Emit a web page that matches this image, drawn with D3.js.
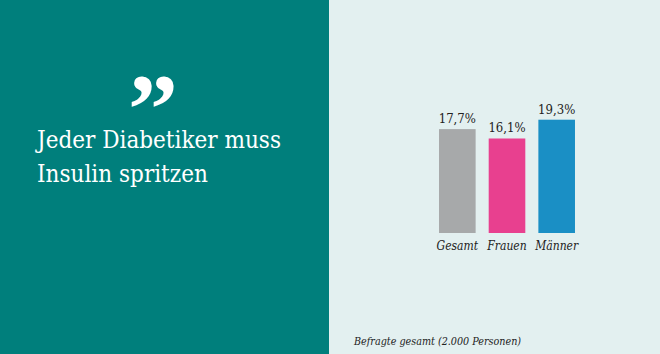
<!DOCTYPE html>
<html><head><meta charset="utf-8">
<script src="https://cdn.jsdelivr.net/npm/d3@7"></script>
<style>html,body{margin:0;padding:0;}svg{display:block;}</style>
</head><body>
<svg id="c" width="660" height="354"></svg>
<script>
const categories = ["Gesamt", "Frauen", "Männer"];
const values = [17.7, 16.1, 19.3];
const valueLabels = ["17,7%", "16,1%", "19,3%"];
const colors = ["#a7a9aa", "#e8408f", "#1a8fc5"];
const quoteLines = ["Jeder Diabetiker muss", "Insulin spritzen"];
const footnote = "Befragte gesamt (2.000 Personen)";

const svg = d3.select("#c");
const cond = "'DejaVu Serif Condensed', 'DejaVu Serif', serif";

svg.append("rect").attr("x",0).attr("y",0).attr("width",660).attr("height",354).attr("fill","#e3f0f0");
svg.append("rect").attr("x",0).attr("y",0).attr("width",329).attr("height",354).attr("fill","#007f7c");

svg.append("text").attr("x",153).attr("y",142).attr("text-anchor","middle")
  .attr("fill","#fff").attr("font-family","'Liberation Serif', serif").attr("font-weight","bold").attr("font-size",100)
  .text("\u201D");

svg.selectAll("text.q").data(quoteLines).join("text").attr("class","q")
  .attr("x",37).attr("y",(d,i)=>148+i*34)
  .attr("fill","#fff").attr("font-family",cond).attr("font-size",24)
  .text(d=>d);

const x = d3.scaleBand().domain(categories).range([426.6, 587.4]).paddingInner(0.263).paddingOuter(0.25);
const y = d3.scaleLinear().domain([0, 20]).range([233, 233 - 20*5.87]);

const g = svg.append("g");
g.selectAll("rect.bar").data(values).join("rect").attr("class","bar")
  .attr("x",(d,i)=>x(categories[i])).attr("width",x.bandwidth())
  .attr("y",d=>y(d)).attr("height",d=>y(0)-y(d))
  .attr("fill",(d,i)=>colors[i]);

g.selectAll("text.val").data(values).join("text").attr("class","val")
  .attr("x",(d,i)=>x(categories[i])+x.bandwidth()/2).attr("y",d=>y(d)-6)
  .attr("text-anchor","middle").attr("fill","#222").attr("font-family",cond).attr("font-size",13)
  .text((d,i)=>valueLabels[i]);

const xAxis = d3.axisBottom(x).tickSize(0).tickPadding(8);
const ax = svg.append("g").attr("transform","translate(0,233)").call(xAxis);
ax.select(".domain").remove();
ax.selectAll("text").attr("font-family",cond).attr("font-style","italic").attr("font-size",12).attr("fill","#222");

svg.append("text").attr("x",354).attr("y",345).attr("fill","#222")
  .attr("font-family",cond).attr("font-style","italic").attr("font-size",10.7)
  .text(footnote);
</script>
</body></html>
